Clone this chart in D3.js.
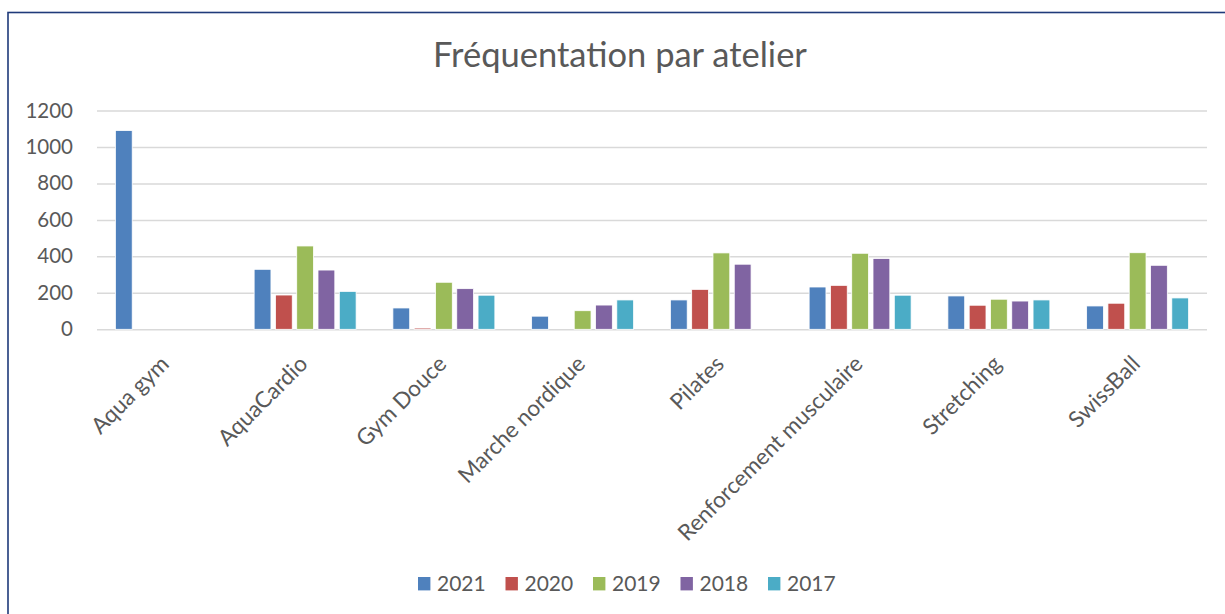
<!DOCTYPE html>
<html lang="fr">
<head>
    <meta charset="UTF-8">
    <title>Fréquentation par atelier</title>
    <style>
        html, body {
            margin: 0;
            padding: 0;
            background-color: #ffffff;
            font-family: 'Lato', sans-serif;
            color: #595959;
        }
        svg { display: block; }
        .grid line { stroke: #d9d9d9; stroke-width: 1.5; }
        .grid .domain { display: none; }
    </style>
</head>
<body>
    <div id="graph"></div>
    <script src="https://d3js.org/d3.v7.min.js"></script>
    <script>
        const width = 1225;
        const height = 614;
        const margin = {top: 111, left: 97, bottom: 285, right: 18};

        // DATA
        const ateliers = [
            "Aqua gym", "AquaCardio", "Gym Douce", "Marche nordique",
            "Pilates", "Renforcement musculaire", "Stretching", "SwissBall"
        ];
        const annees = ["2021", "2020", "2019", "2018", "2017"];
        const v2021 = [1090, 329, 117, 72, 161, 232, 183, 128];
        const v2020 = [null, 188, 7, null, 219, 241, 132, 143];
        const v2019 = [null, 457, 258, 102, 419, 417, 165, 420];
        const v2018 = [null, 325, 223, 133, 357, 388, 155, 351];
        const v2017 = [null, 208, 187, 161, null, 187, 161, 172];
        const yTicks = [0, 200, 400, 600, 800, 1000, 1200];
        const colours = ["#4f81bd", "#c0504d", "#9bbb59", "#8064a2", "#4bacc6"];

        const series = [v2021, v2020, v2019, v2018, v2017];
        const dataset = [];
        ateliers.forEach((a, i) => {
            annees.forEach((y, j) => {
                if (series[j][i] != null) dataset.push({atelier: a, annee: y, value: series[j][i]});
            });
        });

        const svg = d3.select("#graph")
            .append("svg")
            .attr("width", width)
            .attr("height", height);

        // BORDER (runs off the right and bottom of the picture)
        svg.append("rect")
            .attr("x", 8)
            .attr("y", 12.5)
            .attr("width", width + 20)
            .attr("height", height + 20)
            .style("fill", "none")
            .style("stroke", "#1f3a7a")
            .style("stroke-width", 1.6);

        // TITLE
        svg.append("text")
            .attr("x", 620)
            .attr("y", 67)
            .attr("text-anchor", "middle")
            .style("font-size", "34.5px")
            .style("fill", "#595959")
            .text("Fréquentation par atelier");

        // SCALES
        const x0 = d3.scaleBand()
            .domain(ateliers)
            .range([margin.left, width - margin.right])
            .paddingInner(0.265)
            .paddingOuter(0.1325);
        const x1 = d3.scaleBand()
            .domain(annees)
            .range([0, x0.bandwidth()])
            .paddingInner(0.21);
        const y = d3.scaleLinear()
            .domain([0, 1200])
            .range([329.3, margin.top - 0.5]);
        const colour = d3.scaleOrdinal().domain(annees).range(colours);

        // GRIDLINES + Y AXIS
        const yAxis = d3.axisLeft(y)
            .tickValues(yTicks)
            .tickSize(-(x0.range()[1] - x0.range()[0]))
            .tickPadding(24)
            .tickFormat(d3.format("d"));
        const gy = svg.append("g")
            .attr("class", "grid")
            .attr("transform", `translate(${x0.range()[0]}, 0)`)
            .call(yAxis);
        gy.selectAll("text")
            .style("font-family", "Lato, sans-serif")
            .style("font-size", "20.5px")
            .style("fill", "#595959");

        // BARS
        svg.append("g")
            .selectAll("rect")
            .data(dataset).enter()
            .append("rect")
            .attr("x", (d) => x0(d.atelier) + x1(d.annee))
            .attr("y", (d) => y(d.value))
            .attr("width", x1.bandwidth())
            .attr("height", (d) => y(0) - y(d.value))
            .style("fill", (d) => colour(d.annee))
            .style("stroke", "#ffffff")
            .style("stroke-width", 0.8);

        // X AXIS LABELS
        const xAxis = d3.axisBottom(x0).tickSize(0).tickPadding(0);
        const gx = svg.append("g")
            .attr("transform", `translate(0, ${y(0)})`)
            .call(xAxis);
        gx.select(".domain").remove();
        gx.selectAll("text")
            .style("font-family", "Lato, sans-serif")
            .style("font-size", "22.5px")
            .style("fill", "#595959")
            .attr("text-anchor", "end")
            .attr("dy", null)
            .attr("y", 0)
            .attr("transform", "translate(4, 36) rotate(-45)");

        // LEGEND
        const legend = svg.append("g")
            .attr("transform", "translate(418, 577)");
        const item = legend.selectAll("g")
            .data(annees).enter()
            .append("g")
            .attr("transform", (d, i) => `translate(${i * 87.5}, 0)`);
        item.append("rect")
            .attr("width", 12.4)
            .attr("height", 13.4)
            .style("fill", (d) => colour(d));
        item.append("text")
            .attr("x", 19)
            .attr("y", 14)
            .style("font-size", "21px")
            .style("fill", "#595959")
            .text((d) => d);
    </script>
</body>
</html>
